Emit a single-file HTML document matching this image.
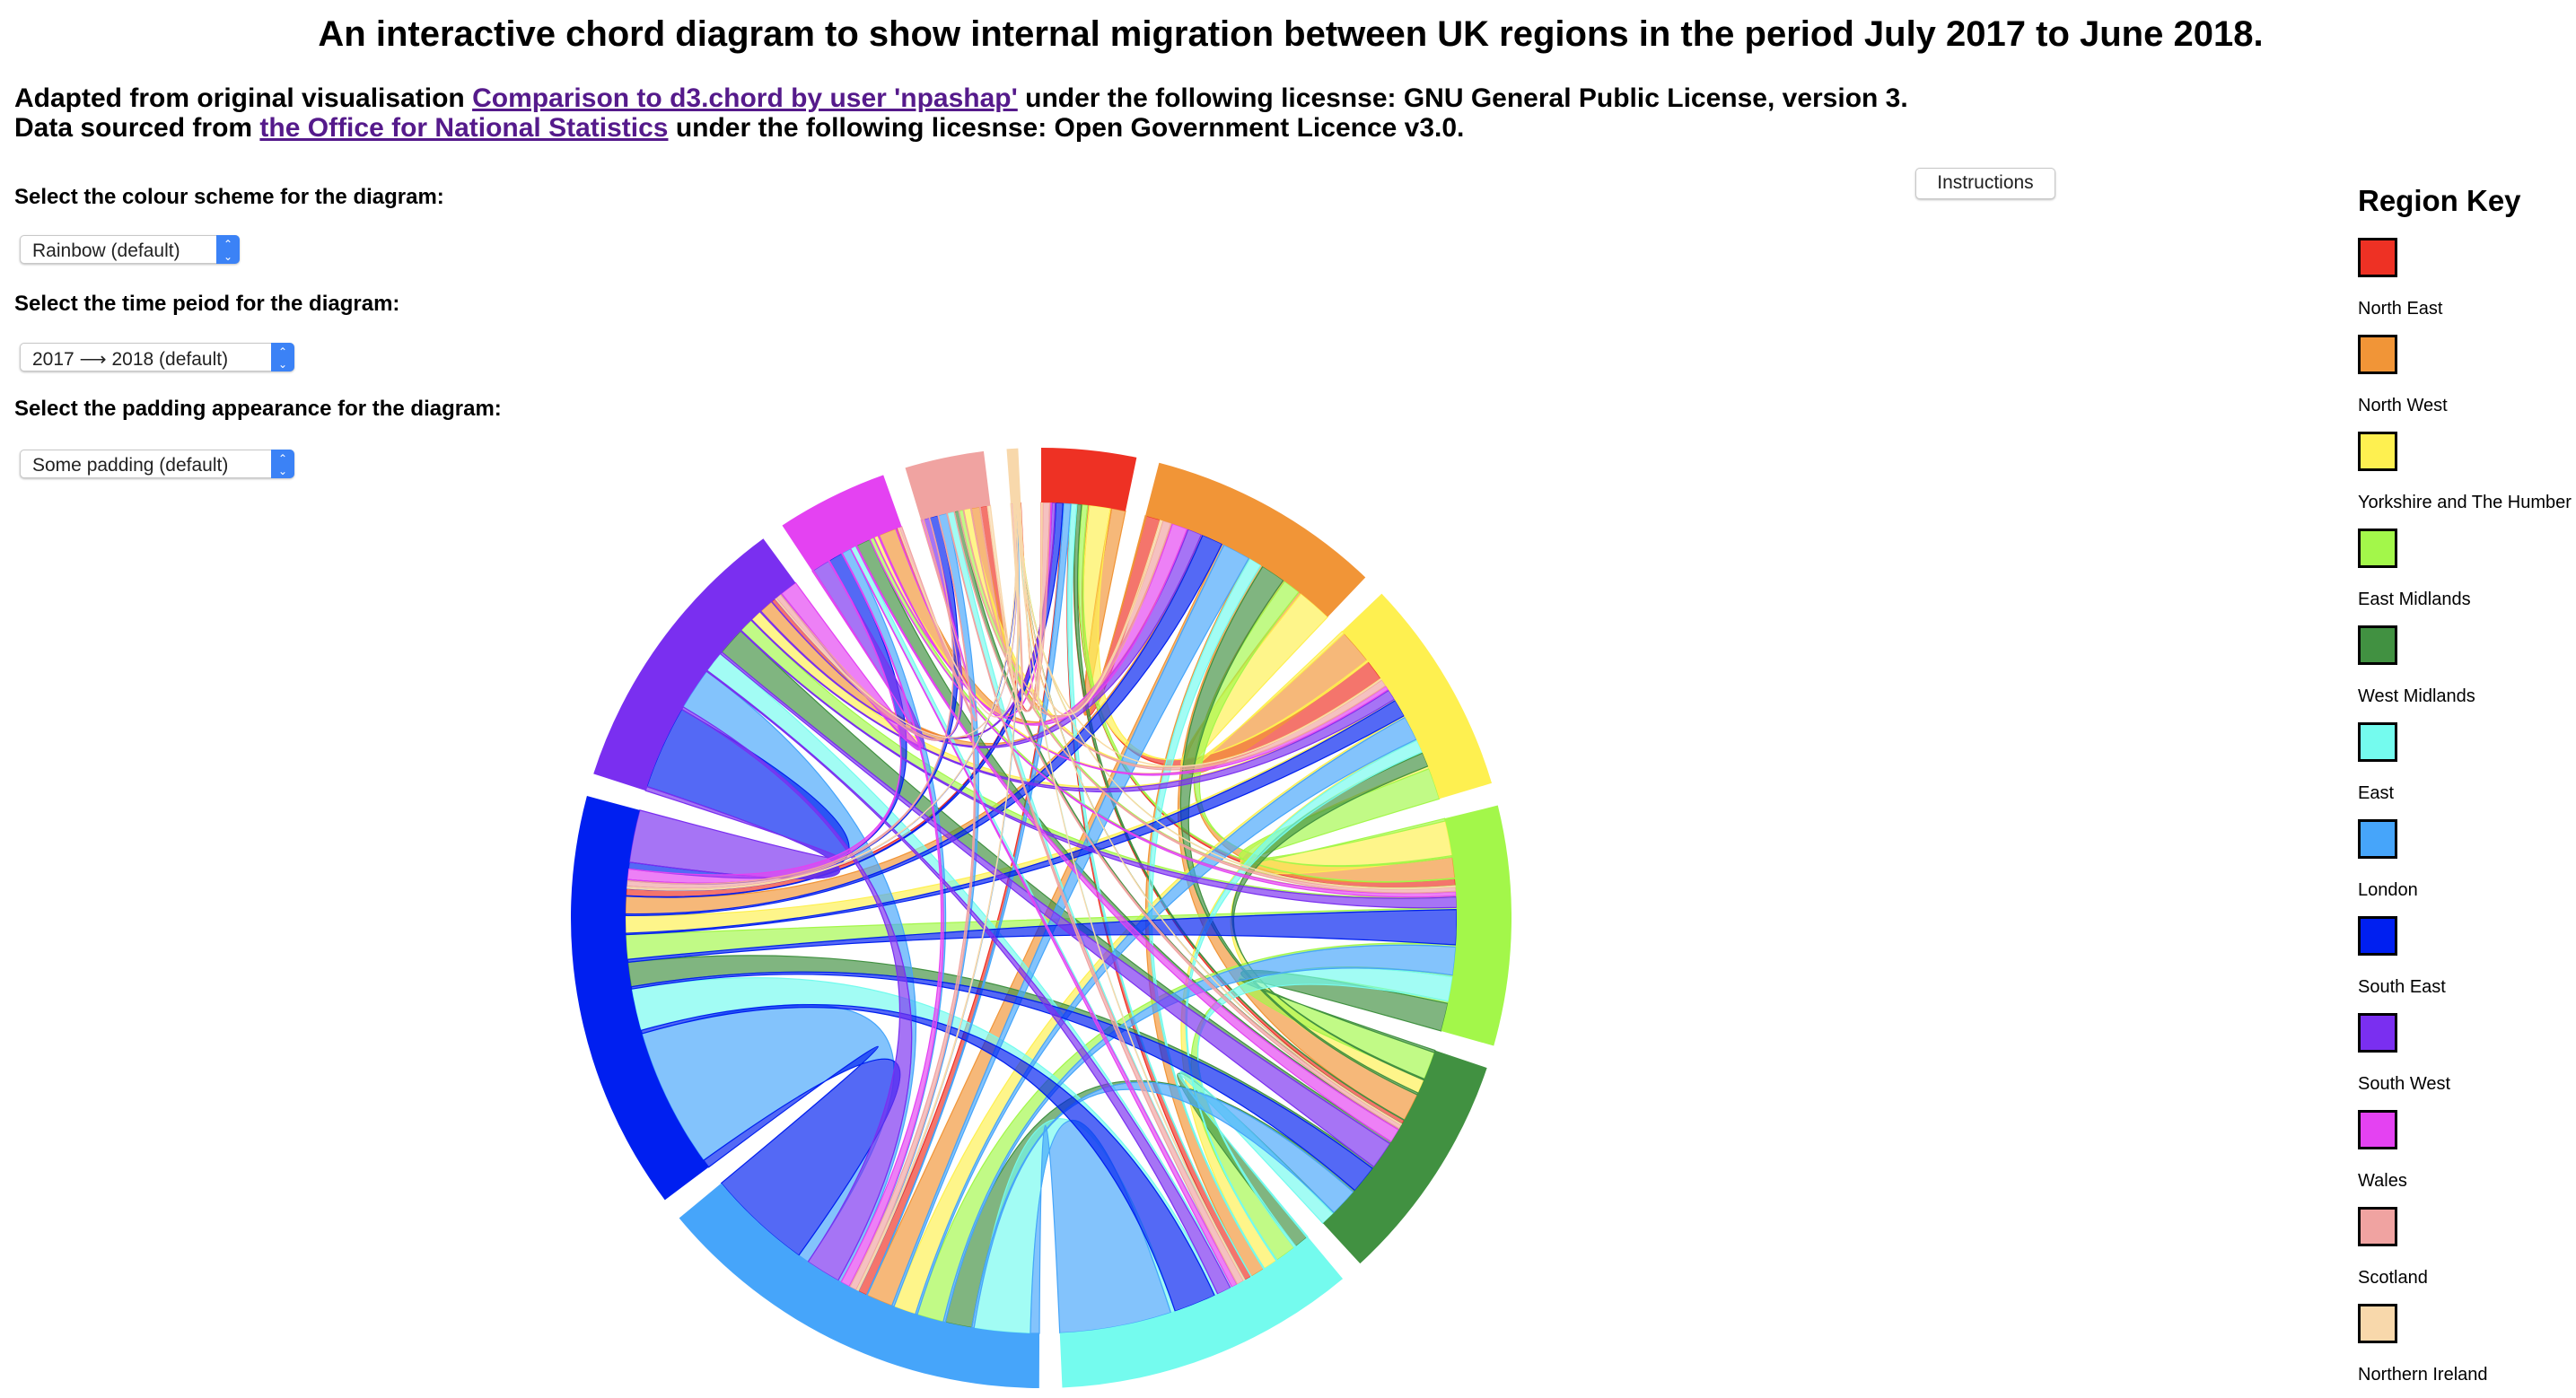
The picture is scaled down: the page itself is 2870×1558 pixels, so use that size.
<!DOCTYPE html>
<html><head><meta charset="utf-8"><style>
body{margin:0;width:2870px;height:1558px;background:#fff;font-family:"Liberation Sans",Arial,sans-serif;position:relative;overflow:hidden}
.abs{position:absolute;margin:0;white-space:nowrap}
h1.abs{font-size:40px;font-weight:bold;left:0;width:2876px;text-align:center;top:16px}
.sub{font-size:30px;font-weight:bold;left:16px}
.sub a{color:#551a8b;text-decoration:underline}
.lab{font-size:24px;font-weight:bold;left:16px}
.sel{left:22px;height:32px;border:1px solid #c8c8c8;border-radius:5px;background:#fff;box-shadow:0 1px 2px rgba(0,0,0,.25);font-size:21px;color:#222;box-sizing:border-box;padding:5px 0 0 13px}
.sel .ar{position:absolute;right:-1px;top:-1px;width:26px;height:32px;background:#3b82f6;border-radius:0 5px 5px 0;color:#fff;font-size:12px;text-align:center;line-height:14px;padding-top:3px;box-sizing:border-box}
.btn{left:2134px;top:187px;width:154px;height:33px;border:1px solid #c8c8c8;border-radius:5px;box-shadow:0 1px 2px rgba(0,0,0,.25);font-size:21px;text-align:center;line-height:32px;color:#222;background:#fff}
.lt{left:2627px;font-size:33px;font-weight:bold;top:205px}
.sw{left:2627px;width:44px;height:44px;border:3px solid #000;box-sizing:border-box}
.ln{left:2627px;font-size:20px}
</style></head><body>
<h1 class="abs">An interactive chord diagram to show internal migration between UK regions in the period July 2017 to June 2018.</h1>
<p class="abs sub" style="top:93px">Adapted from original visualisation <a>Comparison to d3.chord by user 'npashap'</a> under the following licesnse: GNU General Public License, version 3.</p>
<p class="abs sub" style="top:126px">Data sourced from <a>the Office for National Statistics</a> under the following licesnse: Open Government Licence v3.0.</p>
<p class="abs lab" style="top:206px">Select the colour scheme for the diagram:</p>
<div class="abs sel" style="top:262px;width:245px">Rainbow (default)<div class="ar">&#8963;<br>&#8964;</div></div>
<p class="abs lab" style="top:325px">Select the time peiod for the diagram:</p>
<div class="abs sel" style="top:382px;width:306px">2017 ⟶ 2018 (default)<div class="ar">&#8963;<br>&#8964;</div></div>
<p class="abs lab" style="top:442px">Select the padding appearance for the diagram:</p>
<div class="abs sel" style="top:501px;width:306px">Some padding (default)<div class="ar">&#8963;<br>&#8964;</div></div>
<div class="abs btn">Instructions</div>
<p class="abs lt">Region Key</p>
<div id="legend"></div>
<svg id="chart" class="abs" style="left:0;top:0" width="2870" height="1558"></svg>
<script>
const regions=["North East","North West","Yorkshire and The Humber","East Midlands","West Midlands","East","London","South East","South West","Wales","Scotland","Northern Ireland"];
const colors=["#ee3124","#f19537","#fef050","#a3f74a","#419141","#74fbee","#46a5fa","#001ff0","#7a2ff0","#e442f2","#f0a3a1","#f8d8ab"];
// flows from region (row) to region (column)
const fromNE=[0,2,3,1,0.6,1,1.3,1,0.6,0.3,1,0.05];
const fromNW=[2,0,5,3,4,2,3.8,2.5,2,2.5,1.2,0.15];
const fromYH=[3,5,0,5,2,2,3.2,2.5,1.6,0.6,1,0.05];
const fromEM=[0.8,2.5,4.5,0,4,3,3.8,3.5,2,0.6,0.6,0.05];
const fromWM=[0.6,3.5,2,4,0,2,3.8,3.5,4,2,0.6,0.05];
const fromE=[0.8,1.8,1.8,3.5,2,0,8,6,3,0.8,1,0.05];
const fromL=[1,4,3.5,4,4,16,0,20,6,1.3,1.2,0.1];
const fromSE=[1,3,2.5,5,4,6,15,0,12,2,1.2,0.1];
const fromSW=[0.5,2,1.5,1.5,4,2,5,7.5,0,2.5,0.8,0.05];
const fromW=[0.2,2.2,0.6,0.6,2,0.8,1.3,1.5,2.5,0,0.3,0.05];
const fromS=[1,1.2,1,0.6,0.6,1,1,0.8,0.8,0.4,0,0.3];
const fromNI=[0.1,0.3,0.1,0.1,0.1,0.1,0.2,0.2,0.1,0.1,0.4,0];
const matrix=[fromNE,fromNW,fromYH,fromEM,fromWM,fromE,fromL,fromSE,fromSW,fromW,fromS,fromNI];

const NS="http://www.w3.org/2000/svg";
const cx=1160,cy=1023,rIn=463,rOut=524,pad=0.049,rot=0.0,tipFrac=0.08,tipMin=0.04;
const n=matrix.length;
function tipW(v){return v>0?Math.max(v*tipFrac,tipMin):0;}
let total=0;
for(let i=0;i<n;i++)for(let j=0;j<n;j++){total+=matrix[i][j]+tipW(matrix[i][j]);}
const k=(2*Math.PI-pad*n)/total;
const groups=[],tipSeg=[],inSeg=[];
let x=rot;
for(let i=0;i<n;i++){const s=x;tipSeg[i]=[];inSeg[i]=[];
  for(let m=1;m<n;m++){const j=((i-m)%n+n)%n;
    let a=x;x+=tipW(matrix[i][j])*k;tipSeg[i][j]={a0:a,a1:x};
    a=x;x+=matrix[j][i]*k;inSeg[i][j]={a0:a,a1:x};}
  groups.push({a0:s,a1:x});x+=pad;}
function pt(r,a){return [cx+r*Math.sin(a),cy-r*Math.cos(a)];}
const svg=document.getElementById('chart');
const gR=document.createElementNS(NS,'g');svg.appendChild(gR);
for(let i=0;i<n;i++)for(let j=0;j<n;j++){
  if(i===j||matrix[i][j]<=0)continue;
  const s=tipSeg[i][j],t=inSeg[j][i];
  const p0=pt(rIn,s.a0),p1=pt(rIn,s.a1),q0=pt(rIn,t.a0),q1=pt(rIn,t.a1);
  const d=`M${p0}A${rIn},${rIn} 0 0 1 ${p1}Q${cx},${cy} ${q0}A${rIn},${rIn} 0 0 1 ${q1}Q${cx},${cy} ${p0}Z`;
  const p=document.createElementNS(NS,'path');
  p.setAttribute('d',d);p.setAttribute('fill',colors[i]);p.setAttribute('fill-opacity','0.67');
  p.setAttribute('stroke',colors[i]);p.setAttribute('stroke-width','1.2');
  
  
  gR.appendChild(p);
}
for(let i=0;i<n;i++){const g=groups[i];
  const a=pt(rOut,g.a0),b=pt(rOut,g.a1),c=pt(rIn,g.a1),e=pt(rIn,g.a0);const l=(g.a1-g.a0)>Math.PI?1:0;
  const p=document.createElementNS(NS,'path');
  p.setAttribute('d',`M${a}A${rOut},${rOut} 0 ${l} 1 ${b}L${c}A${rIn},${rIn} 0 ${l} 0 ${e}Z`);
  p.setAttribute('fill',colors[i]);
  
  
  svg.appendChild(p);
}
const leg=document.getElementById('legend');
for(let i=0;i<n;i++){
  const s=document.createElement('div');s.className='abs sw';s.style.top=(265+i*108)+'px';s.style.background=colors[i];
  
  
  leg.appendChild(s);
  const t=document.createElement('div');t.className='abs ln';t.style.top=(333+i*108)+'px';t.textContent=regions[i];
  
  
  leg.appendChild(t);
}
</script>
</body></html>
